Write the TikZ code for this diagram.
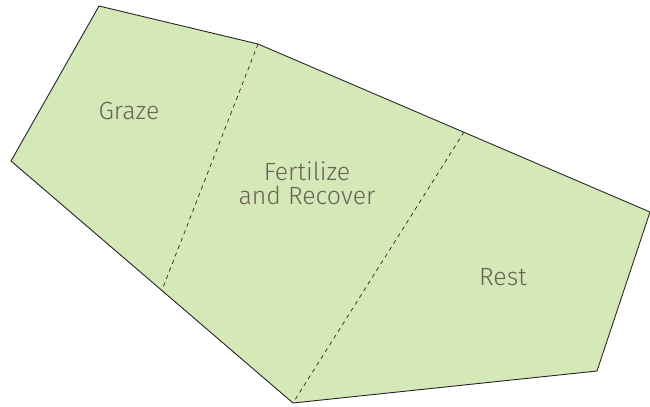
\documentclass[tikz,border=0pt]{standalone}
\usepackage{fontspec}
\setmainfont{Fira Sans Light}
\definecolor{fieldfill}{HTML}{D4E8B8}
\definecolor{labeltext}{HTML}{6B6256}
\begin{document}
\begin{tikzpicture}[x=1bp,y=-1bp,
  edge/.style={draw=black!85,line width=0.9bp,line join=miter},
  divider/.style={draw=black!85,line width=0.7bp,dash pattern=on 4bp off 4bp},
  zonelabel/.style={text=labeltext,font=\fontsize{25}{24}\selectfont,align=center,inner sep=0}]
\useasboundingbox (0,0) rectangle (650,406);
\coordinate (p1) at (99,6);
\coordinate (p2) at (258,44);
\coordinate (p3) at (650,212);
\coordinate (p4) at (597,371);
\coordinate (p5) at (293,403);
\coordinate (p6) at (11,161);
\coordinate (d1) at (162,290);
\coordinate (d2) at (464,132);
\fill[fieldfill] (p1) -- (p2) -- (p3) -- (p4) -- (p5) -- (p6) -- cycle;
\draw[edge] (p3) -- (p2) -- (p1) -- (p6) -- (p5) -- (p4) -- (p3);
\draw[divider] (p2) -- (d1);
\draw[divider] (d2) -- (p5);
\node[zonelabel] (graze) at (129,111) {Graze};
\node[zonelabel] (fert) at (307,183) {Fertilize\\and Recover};
\node[zonelabel] (rest) at (503,277) {Rest};
\end{tikzpicture}
\end{document}
